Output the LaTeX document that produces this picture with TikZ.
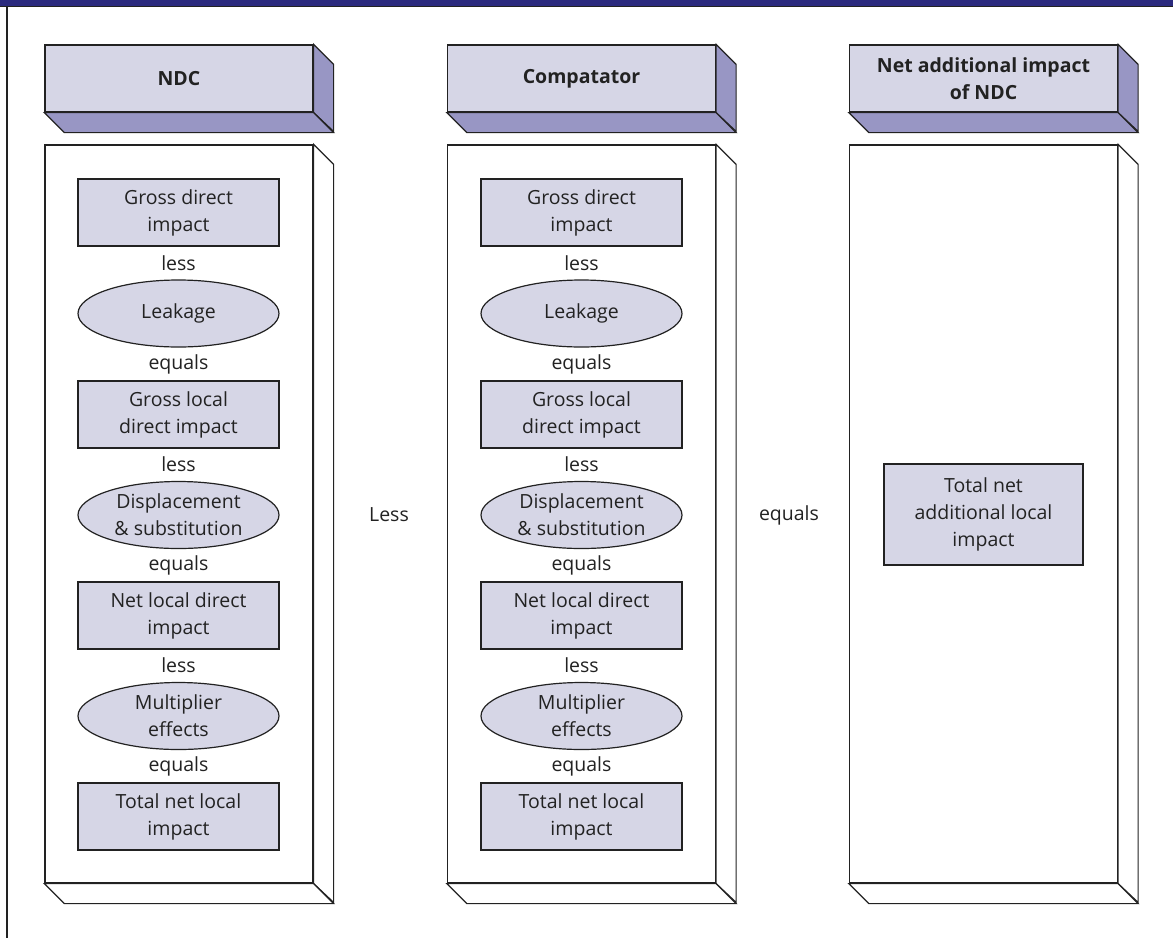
\documentclass[tikz,border=0pt]{standalone}
\usepackage{fontspec}
\setmainfont{Open Sans}
\usetikzlibrary{shapes.geometric}
\definecolor{navy}{HTML}{2B2A7E}
\definecolor{lav}{HTML}{D6D6E6}
\definecolor{lavdark}{HTML}{9896C4}
\definecolor{ink}{HTML}{222222}
\begin{document}
\begin{tikzpicture}[x=1pt,y=-1pt,
  every node/.style={font=\fontsize{19.5}{27}\selectfont, text=ink},
  edge/.style={draw=ink, line width=1.2pt, line join=miter},
  hdr/.style={edge, fill=lav, rectangle, minimum width=268pt, minimum height=67pt, inner sep=0pt, align=center, font=\fontsize{19.5}{27}\selectfont\bfseries},
  panel/.style={edge, fill=white, rectangle, minimum width=268pt, minimum height=738pt, inner sep=0pt},
  stepbox/.style={edge, fill=lav, rectangle, minimum width=201pt, minimum height=67pt, inner sep=0pt, align=center},
  ellbox/.style={edge, fill=lav, ellipse, minimum width=201pt, minimum height=67pt, inner sep=0pt},
  txt/.style={align=center, inner sep=0pt},
  side/.style={edge, fill=lavdark},
  wside/.style={edge, fill=white}
]
\useasboundingbox (0,0) rectangle (1173,938);
% frame
\fill[navy] (0,0) rectangle (1173,6);
\draw[ink, line width=1pt] (0,6.5) -- (1173,6.5);
\draw[ink, line width=1.2pt] (7,6.5) -- (7,938);

% headers and panels
\foreach \cx/\name/\lab in {179/1/NDC, 581.5/2/Compatator, 983.5/3/{Net additional impact\\of NDC}} {
  \node[hdr] (h\name) at (\cx,78.5) {\lab};
  \path[side] (h\name.north east) -- ++(20,20) -- ++(0,67) -- (h\name.south east) -- cycle;
  \path[side] (h\name.south west) -- (h\name.south east) -- ++(20,20) -- ([shift={(20,20)}]h\name.south west) -- cycle;
  \node[panel] (p\name) at (\cx,514) {};
  \path[wside] (p\name.north east) -- ++(20,20) -- ++(0,738) -- (p\name.south east) -- cycle;
  \path[wside] (p\name.south west) -- (p\name.south east) -- ++(20,20) -- ([shift={(20,20)}]p\name.south west) -- cycle;
}

% column contents
\foreach \cx/\c in {178.5/a, 581.5/b} {
  \node[stepbox] (\c1) at (\cx,212.5) {Gross direct\\impact};
  \node[txt] (\c l1) at (\cx,263) {less};
  \node[ellbox] (\c e1) at (\cx,313.5) {};
  \node[txt] at (\c e1) {Leakage};
  \node[txt] (\c q1) at (\cx,364) {equals};
  \node[stepbox] (\c2) at (\cx,414.5) {Gross local\\direct impact};
  \node[txt] (\c l2) at (\cx,464.5) {less};
  \node[ellbox] (\c e2) at (\cx,515) {};
  \node[txt] at (\c e2) {Displacement\\\& substitution};
  \node[txt] (\c q2) at (\cx,565.5) {equals};
  \node[stepbox] (\c3) at (\cx,615.5) {Net local direct\\impact};
  \node[txt] (\c l3) at (\cx,665.5) {less};
  \node[ellbox] (\c e3) at (\cx,716) {};
  \node[txt] at (\c e3) {Multiplier\\effects};
  \node[txt] (\c q3) at (\cx,766.5) {equals};
  \node[stepbox] (\c4) at (\cx,816.5) {Total net local\\impact};
}

\node[txt] (less) at (389,515) {Less};
\node[txt] (eq) at (789,515) {equals};
\node[stepbox, minimum height=101pt, minimum width=199pt] (tot) at (983.5,514.5) {Total net\\additional local\\impact};
\end{tikzpicture}
\end{document}
